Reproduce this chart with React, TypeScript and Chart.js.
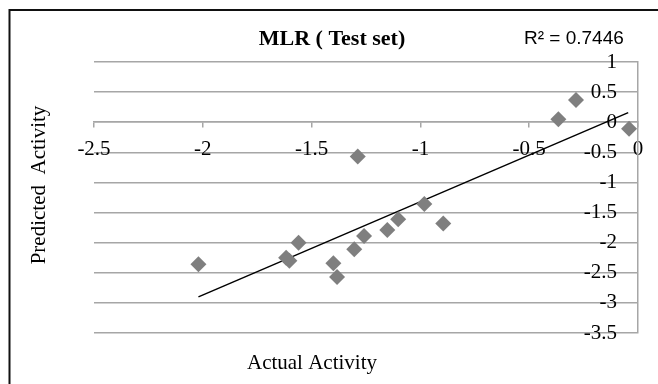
import React, { useEffect, useRef } from "react";
import { Chart, registerables } from "chart.js";

Chart.register(...registerables);

// Actual (x) vs predicted (y) activity, test set
const actualActivity = [-2.02, -1.617, -1.602, -1.56, -1.4, -1.383, -1.304, -1.288, -1.259, -1.152, -1.102, -0.982, -0.895, -0.366, -0.285, -0.041];
const predictedActivity = [-2.36, -2.25, -2.3, -2.0, -2.34, -2.57, -2.11, -0.57, -1.89, -1.79, -1.61, -1.36, -1.68, 0.05, 0.37, -0.11];

// Linear trendline end points
const trendX = [-2.02, -0.045];
const trendY = [-2.9, 0.16];

const xTicks = { min: -2.5, max: 0, step: 0.5 };
const yTicks = { min: -3.5, max: 1, step: 0.5 };

const titleText = "MLR ( Test set)";
const r2Text = "R\u00B2 = 0.7446";
const xTitle = "Actual Activity";
const yTitle = "Predicted  Activity";

const SERIF = "'Liberation Serif', 'Times New Roman', serif";
const SANS = "'Liberation Sans', Arial, sans-serif";
const GRID = "#a6a6a6";

const fmt = (v: any) => String(Math.round(Number(v) * 10) / 10);

const textPlugin = {
  id: "textPlugin",
  afterDraw(chart: any) {
    const ctx = chart.ctx as CanvasRenderingContext2D;
    ctx.save();
    // outer border
    ctx.strokeStyle = "#111";
    ctx.lineWidth = 2;
    ctx.strokeRect(9.5, 10, 720, 500);

    ctx.fillStyle = "#000";
    ctx.textBaseline = "middle";
    // title
    ctx.font = `bold 22px ${SERIF}`;
    ctx.textAlign = "center";
    ctx.fillText(titleText, 332, 39);
    // R2
    ctx.font = `19px ${SANS}`;
    ctx.textAlign = "left";
    ctx.fillText(r2Text, 524, 39);
    // x title
    ctx.font = `21px ${SERIF}`;
    ctx.textAlign = "center";
    ctx.fillText(xTitle, 312, 363);
    // y title
    ctx.translate(39, 185);
    ctx.rotate(-Math.PI / 2);
    ctx.fillText(yTitle, 0, 0);
    ctx.restore();
  },
};

export default function App() {
  const ref = useRef<HTMLCanvasElement | null>(null);
  useEffect(() => {
    if (!ref.current) return;
    const points = actualActivity.map((x, i) => ({ x, y: predictedActivity[i] }));
    const trend = trendX.map((x, i) => ({ x, y: trendY[i] }));
    const chart = new Chart(ref.current, {
      type: "scatter",
      data: {
        datasets: [
          {
            label: "Trend",
            data: trend,
            showLine: true,
            borderColor: "#000",
            borderWidth: 1.5,
            pointRadius: 0,
            order: 2,
          } as any,
          {
            label: "Test set",
            data: points,
            pointStyle: "rectRot",
            pointRadius: 8,
            backgroundColor: "#7f7f7f",
            borderWidth: 0,
            order: 1,
          } as any,
        ],
      },
      options: {
        animation: false,
        responsive: false,
        layout: { padding: { left: 94, right: 20, top: 62, bottom: 51 } },
        plugins: { legend: { display: false }, title: { display: false }, tooltip: { enabled: false } },
        scales: {
          x: {
            type: "linear",
            position: { y: 0 } as any,
            min: xTicks.min,
            max: xTicks.max,
            ticks: { stepSize: xTicks.step, callback: fmt, color: "#000", font: { family: SERIF, size: 21 }, padding: 10, maxRotation: 0, autoSkip: false },
            grid: { drawOnChartArea: false, drawTicks: true, tickLength: 5, color: GRID, lineWidth: 1.5 },
            border: { display: true, color: GRID, width: 1.5 },
            afterFit: (s: any) => { s.height = 0; },
          },
          y: {
            type: "linear",
            position: "right",
            min: yTicks.min,
            max: yTicks.max,
            ticks: { stepSize: yTicks.step, callback: fmt, mirror: true, padding: -21, color: "#000", font: { family: SERIF, size: 21 }, autoSkip: false },
            grid: { drawTicks: false, color: GRID, lineWidth: 1.5 },
            border: { display: true, color: GRID, width: 1.5 },
            afterFit: (s: any) => { s.width = 0; },
          },
        },
      },
      plugins: [textPlugin],
    });
    return () => chart.destroy();
  }, []);
  return (
    <div style={{ position: "absolute", left: 0, top: 0, width: 658, height: 384, background: "#fff" }}>
      <canvas ref={ref} width={658} height={384} />
    </div>
  );
}
